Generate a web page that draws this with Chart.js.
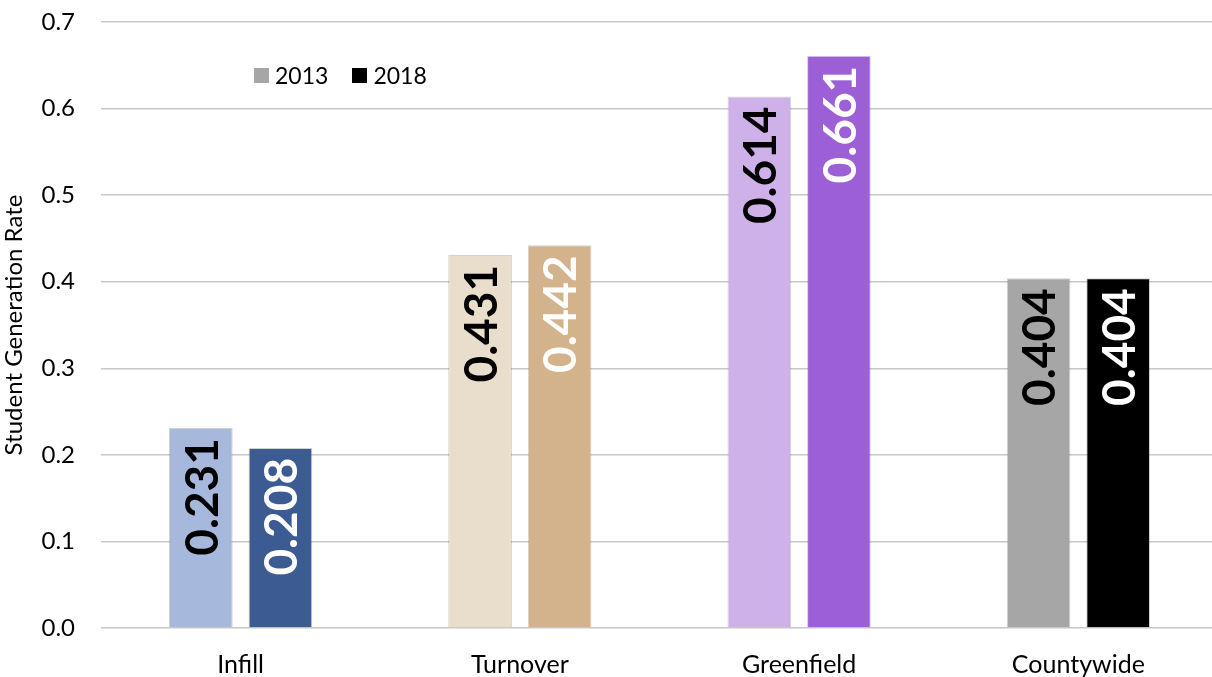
<!DOCTYPE html>
<html>
<head>
<meta charset="utf-8">
<script src="https://cdn.jsdelivr.net/npm/chart.js@4/dist/chart.umd.min.js"></script>
<style>
  html, body { margin: 0; padding: 0; background: #fff; overflow: hidden; }
  #wrap { position: relative; width: 1212px; height: 677px; overflow: hidden; }
  #legend { position: absolute; left: 254px; top: 61px; font: 23px Lato, sans-serif; color: #000; display: flex; align-items: center; }
  #legend span.box { display: inline-block; width: 15px; height: 15px; margin-right: 6px; }
  #legend span.item { display: flex; align-items: center; margin-right: 24px; }
</style>
</head>
<body>
<div id="wrap">
  <canvas id="rates" width="1218" height="677"></canvas>
  <div id="legend">
    <span class="item"><span class="box" style="background:#A6A6A6"></span>2013</span>
    <span class="item"><span class="box" style="background:#000000"></span>2018</span>
  </div>
</div>
<script>
const categories = ['Infill', 'Turnover', 'Greenfield', 'Countywide'];
const years = ['2013', '2018'];
const rates2013 = [0.231, 0.431, 0.614, 0.404];
const rates2018 = [0.208, 0.442, 0.661, 0.404];
const colors2013 = ['#A6B9DD', '#E9DDCB', '#CFB1EA', '#A6A6A6'];
const colors2018 = ['#3C5B92', '#D3B38B', '#9D5FD5', '#000000'];
const labelColors = ['#000000', '#FFFFFF'];

// rotated value labels inside the top of each bar
const barLabels = {
    id: 'barLabels',
    afterDatasetsDraw(chart) {
        const ctx = chart.ctx;
        chart.data.datasets.forEach(function(ds, i) {
            const meta = chart.getDatasetMeta(i);
            meta.data.forEach(function(bar, j) {
                ctx.save();
                ctx.translate(bar.x, bar.y + 10);
                ctx.rotate(-Math.PI / 2);
                ctx.font = 'bold 46px Lato, sans-serif';
                ctx.fillStyle = labelColors[i];
                ctx.textAlign = 'right';
                ctx.textBaseline = 'middle';
                ctx.fillText(ds.data[j].toFixed(3), 0, 2);
                ctx.restore();
            });
        });
    }
};

new Chart(document.getElementById('rates'), {
    type: 'bar',
    data: {
        labels: categories,
        datasets: [{
            label: years[0],
            data: rates2013,
            backgroundColor: colors2013,
            borderColor: 'rgba(0,0,0,0.18)',
            borderWidth: 1,
            barPercentage: 0.8,
            categoryPercentage: 0.57
        }, {
            label: years[1],
            data: rates2018,
            backgroundColor: colors2018,
            borderColor: 'rgba(0,0,0,0.18)',
            borderWidth: 1,
            barPercentage: 0.8,
            categoryPercentage: 0.57
        }]
    },
    options: {
        responsive: false,
        animation: false,
        layout: { padding: { top: 22, right: 0, left: 0, bottom: 0 } },
        plugins: {
            legend: { display: false },
            tooltip: { enabled: false }
        },
        scales: {
            x: {
                grid: { display: false },
                border: { display: false },
                ticks: { color: '#000', font: { family: 'Lato', size: 25 }, padding: 14 },
                afterFit: function(scale) { scale.height = 49; }
            },
            y: {
                min: 0,
                max: 0.7,
                grid: { color: '#C8C8C8', lineWidth: 1.5, drawTicks: false },
                border: { display: false },
                ticks: {
                    stepSize: 0.1,
                    color: '#000',
                    padding: 26,
                    font: { family: 'Lato', size: 24 },
                    callback: function(value) { return value.toFixed(1); }
                },
                title: {
                    display: true,
                    text: 'Student Generation Rate',
                    color: '#000',
                    font: { family: 'Lato', size: 24 },
                    padding: 0
                },
                afterFit: function(scale) {
                    scale.width = 101;
                    scale.paddingTop = 0;
                    scale.paddingBottom = 0;
                }
            }
        }
    },
    plugins: [barLabels]
});
</script>
</body>
</html>
